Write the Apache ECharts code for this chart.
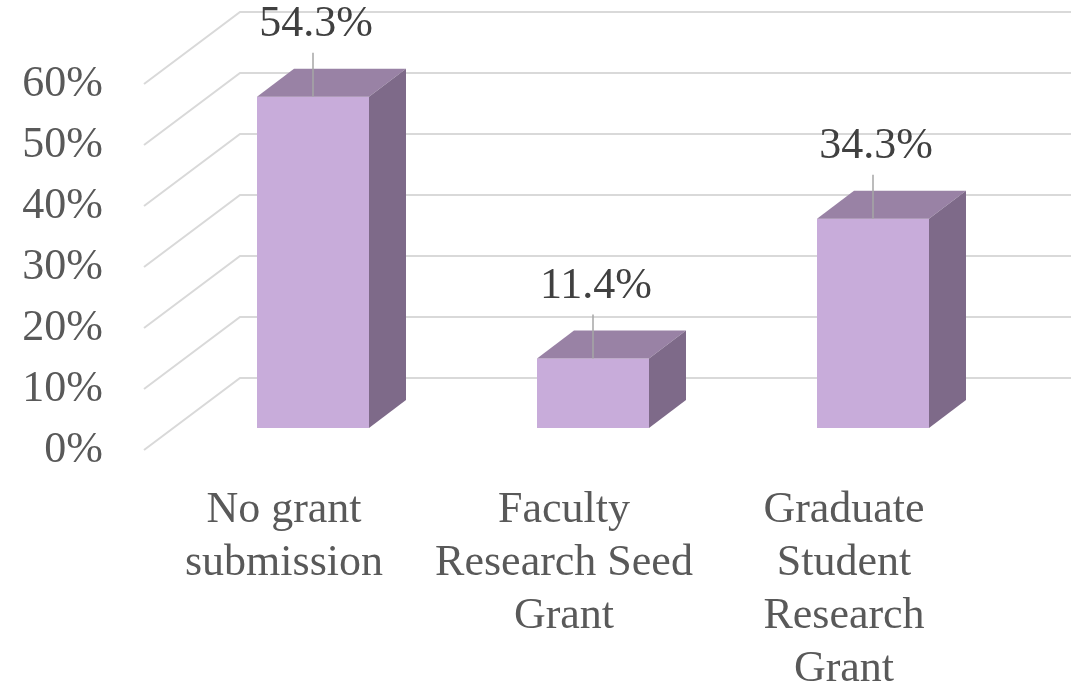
<!DOCTYPE html>
<html lang="en">
<head>
<meta charset="UTF-8">
<title>Grant submission</title>
<script src="https://cdn.jsdelivr.net/npm/echarts@6/dist/echarts.min.js"></script>
<style>
    * { margin: 0; padding: 0 }
    html, body { width: 100%; height: 100%; background: #fff; }
    #chart { width: 1071px; height: 686px; }
</style>
</head>
<body>
<div id="chart"></div>
<script>
    // data
    var categories = ['No grant\nsubmission', 'Faculty\nResearch Seed\nGrant', 'Graduate\nStudent\nResearch\nGrant'];
    var values = [54.3, 11.4, 34.3];
    var yTicks = [0, 10, 20, 30, 40, 50, 60];

    // 3d look: offsets from the front plane
    var wallDx = 96, wallDy = -72;    // back wall
    var barDx = 29, barDy = -22;      // front face of the bars
    var depthDx = 37, depthDy = -28;  // bar depth

    var font = '"Liberation Serif", "DejaVu Serif", serif';

    var myChart = echarts.init(document.getElementById('chart'));

    var option = {
        animation: false,
        grid: { left: 144, right: 87, top: 84, bottom: 236, outerBoundsMode: 'none', containLabel: false },
        xAxis: {
            type: 'category',
            data: categories,
            axisLine: { show: false },
            axisTick: { show: false },
            axisLabel: {
                margin: 34,
                fontFamily: font,
                fontSize: 44,
                lineHeight: 53,
                color: '#595959',
                interval: 0
            }
        },
        yAxis: {
            type: 'value',
            min: 0,
            max: 60,
            interval: 10,
            axisLine: { show: false },
            axisTick: { show: false },
            splitLine: { show: false },
            axisLabel: {
                margin: 41,
                padding: [10, 0, 0, 0],
                fontFamily: font,
                fontSize: 44,
                color: '#595959',
                formatter: '{value}%'
            }
        },
        series: [
            {
                // gridlines: side wall + back wall
                type: 'custom',
                z: 1,
                silent: true,
                data: yTicks.map(function (v) { return [0, v]; }),
                renderItem: function (params, api) {
                    var cs = params.coordSys;
                    var y = api.coord([0, api.value(1)])[1];
                    var x0 = cs.x;
                    return {
                        type: 'polyline',
                        shape: {
                            points: [
                                [x0, y],
                                [x0 + wallDx, y + wallDy],
                                [cs.x + cs.width + wallDx, y + wallDy]
                            ]
                        },
                        style: { stroke: '#D9D9D9', lineWidth: 2, fill: null }
                    };
                }
            },
            {
                type: 'custom',
                z: 2,
                data: values.map(function (v, i) { return [i, v]; }),
                renderItem: function (params, api) {
                    var i = api.value(0), v = api.value(1);
                    var top = api.coord([i, v]);
                    var base = api.coord([i, 0]);
                    var bw = api.size([1, 0])[0] * 0.4;
                    var cx = top[0] + barDx;
                    var l = cx - bw / 2, r = cx + bw / 2;
                    var t = top[1] + barDy, b = base[1] + barDy;
                    return {
                        type: 'group',
                        children: [
                            {
                                type: 'rect',
                                shape: { x: l, y: t, width: bw, height: b - t },
                                style: { fill: '#C8ACDA' }
                            },
                            {
                                type: 'polygon',
                                shape: { points: [[l, t], [l + depthDx, t + depthDy], [r + depthDx, t + depthDy], [r, t]] },
                                style: { fill: '#9982A5' }
                            },
                            {
                                type: 'polygon',
                                shape: { points: [[r, t], [r + depthDx, t + depthDy], [r + depthDx, b + depthDy], [r, b]] },
                                style: { fill: '#7E6A89' }
                            },
                            {
                                type: 'line',
                                shape: { x1: cx, y1: t - 44, x2: cx, y2: t },
                                style: { stroke: '#A6A6A6', lineWidth: 1.5 }
                            },
                            {
                                type: 'text',
                                style: {
                                    x: cx + 3,
                                    y: t - 72,
                                    text: v.toFixed(1) + '%',
                                    fontFamily: font,
                                    fontSize: 44,
                                    fill: '#404040',
                                    align: 'center',
                                    verticalAlign: 'middle'
                                }
                            }
                        ]
                    };
                }
            }
        ]
    };

    myChart.setOption(option);
</script>
</body>
</html>
